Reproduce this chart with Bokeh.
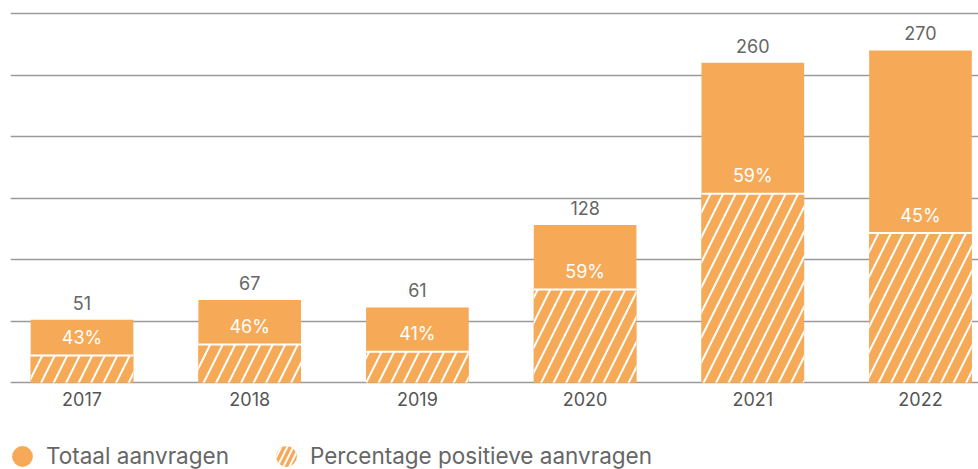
import math
from bokeh.plotting import figure
from bokeh.models import ColumnDataSource, Legend, LegendItem, FixedTicker, Range1d
from bokeh.embed import file_html
from bokeh.resources import INLINE
from bokeh.core.properties import value

# ---- data ----
years = ["2017", "2018", "2019", "2020", "2021", "2022"]
totals = [51, 67, 61, 128, 260, 270]
positive_pct = [43, 46, 41, 59, 59, 45]
grid_ticks = [0, 50, 100, 150, 200, 250, 300]

ORANGE = "#F6AA58"
FONT = "Inter"

xs = list(range(len(years)))
positive = [t * p / 100 for t, p in zip(totals, positive_pct)]
BAR_W = 0.612

src = ColumnDataSource(dict(
    x=xs,
    total=totals,
    pos=positive,
    x0=[x - BAR_W / 2 for x in xs],
    x1=[x + BAR_W / 2 for x in xs],
    total_lbl=[str(t) for t in totals],
    pct_lbl=[f"{p}%" for p in positive_pct],
))

p = figure(
    width=978, height=469,
    x_range=Range1d(-0.4264, 5.3459),
    y_range=Range1d(-70.73, 310.57),
    output_backend="svg", toolbar_location=None,
    y_axis_location=None,
    min_border_left=10, min_border_right=0, min_border_top=0, min_border_bottom=0,
    outline_line_color=None,
)
p.background_fill_color = "white"
p.border_fill_color = "white"

# grid
p.xgrid.visible = False
p.ygrid.ticker = FixedTicker(ticks=grid_ticks)
p.ygrid.grid_line_color = "#9a9a9a"
p.ygrid.grid_line_width = 1.3

# bars
p.vbar(x="x", top="total", width=BAR_W, source=src, fill_color=ORANGE, line_color=None)
p.vbar(x="x", top="pos", width=BAR_W, source=src, fill_color=ORANGE, line_color=None,
       hatch_pattern="/", hatch_color="white", hatch_weight=2, hatch_scale=25)
p.segment(x0="x0", x1="x1", y0="pos", y1="pos", source=src, line_color="white", line_width=2)

# labels
p.text(x="x", y="total", text="total_lbl", source=src, y_offset=-17,
       text_align="center", text_baseline="middle", text_color="#666666",
       text_font=value(FONT), text_font_size="18px")
p.text(x="x", y="pos", text="pct_lbl", source=src, y_offset=-18,
       text_align="center", text_baseline="middle", text_color="white",
       text_font=value(FONT), text_font_size="18px")

# x axis fixed at zero
ax = p.xaxis[0]
ax.fixed_location = 0
ax.ticker = FixedTicker(ticks=xs)
ax.major_label_overrides = {i: y for i, y in enumerate(years)}
ax.axis_line_color = None
ax.major_tick_line_color = None
ax.minor_tick_line_color = None
ax.major_tick_out = 0
ax.major_label_standoff = 9
ax.major_label_text_font = FONT
ax.major_label_text_font_size = "18px"
ax.major_label_text_color = "#555555"

# legend (dummy renderers, not drawn in the plot)
nan = float("nan")
r1 = p.ellipse(x=[nan], y=[nan], width=20, height=20, width_units="screen", height_units="screen",
               fill_color=ORANGE, line_color=None)
r2 = p.ellipse(x=[nan], y=[nan], width=20, height=20, width_units="screen", height_units="screen",
               fill_color=ORANGE, line_color=None,
               hatch_pattern="/", hatch_color="white", hatch_weight=2, hatch_scale=12)

legend = Legend(
    items=[LegendItem(label="Totaal aanvragen", renderers=[r1]),
           LegendItem(label="Percentage positieve aanvragen", renderers=[r2])],
    orientation="horizontal", location=(-1, 0),
    glyph_width=26, glyph_height=26, label_standoff=11, spacing=44,
    padding=0, margin=0,
    border_line_color=None, background_fill_alpha=0,
    label_text_font=FONT, label_text_font_size="22.5px", label_text_color="#666666",
    label_text_baseline="middle",
)
p.add_layout(legend, "center")

open("out.html", "w").write(file_html(p, INLINE))
